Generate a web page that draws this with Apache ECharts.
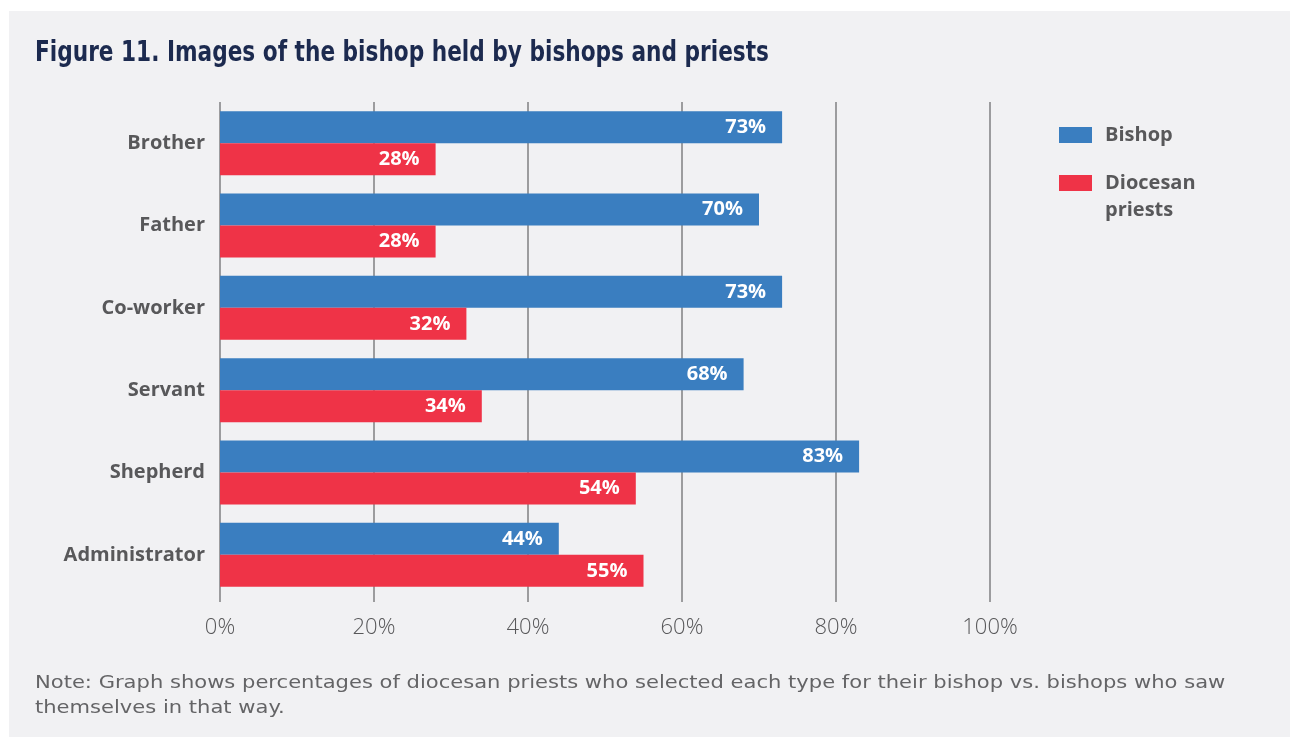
<!DOCTYPE html>
<html>
<head>
<meta charset="utf-8">
<title>Images of the bishop</title>
<script src="https://cdn.jsdelivr.net/npm/echarts@6/dist/echarts.min.js"></script>
<style>
  html, body { margin: 0; padding: 0; background: #ffffff; }
  #chart { width: 1290px; height: 737px; }
</style>
</head>
<body>
<div id="chart"></div>
<script>
// Survey roles, top to bottom
const categories = ['Brother', 'Father', 'Co-worker', 'Servant', 'Shepherd', 'Administrator'];
// Share (%) of bishops who see themselves in each role
const bishopValues = [73, 70, 73, 68, 83, 44];
// Share (%) of diocesan priests who see their bishop in each role
const priestValues = [28, 28, 32, 34, 54, 55];
// Value axis ticks
const tickValues = [0, 20, 40, 60, 80, 100];

const BLUE = '#3a7ec0';
const RED = '#ef3347';
const GREY_TEXT = '#58585a';
const BOLD_FONT = '"Open Sans", "Noto Sans", sans-serif';

const chart = echarts.init(document.getElementById('chart'), null, { renderer: 'canvas' });

const barLabel = {
  show: true,
  position: 'insideRight',
  distance: 16,
  color: '#ffffff',
  fontFamily: BOLD_FONT,
  fontWeight: 700,
  fontSize: 20,
  formatter: p => p.value + '%'
};

const option = {
  backgroundColor: '#ffffff',
  animation: false,
  graphic: [
    {
      type: 'rect',
      z: -10,
      silent: true,
      shape: { x: 9, y: 11, width: 1290 - 9, height: 737 - 11 },
      style: { fill: '#f1f1f3' }
    },
    {
      // Figure heading, set in a condensed bold face
      type: 'text',
      x: 35,
      y: 53,
      scaleX: 0.83,
      silent: true,
      style: {
        text: 'Figure 11. Images of the bishop held by bishops and priests',
        font: 'bold 29px "DejaVu Sans Condensed", "DejaVu Sans", sans-serif',
        fill: '#1c2a4f',
        align: 'left',
        verticalAlign: 'middle'
      }
    },
    {
      // Footnote
      type: 'text',
      x: 35,
      y: 671,
      scaleX: 1.17,
      silent: true,
      style: {
        text: 'Note: Graph shows percentages of diocesan priests who selected each type for their bishop vs. bishops who saw\nthemselves in that way.',
        fontFamily: '"DejaVu Sans", sans-serif',
        fontWeight: 400,
        fontSize: 18,
        lineHeight: 25,
        fill: '#646466',
        align: 'left',
        verticalAlign: 'top'
      }
    }
  ],
  legend: {
    orient: 'vertical',
    left: 1059,
    top: 121.5,
    padding: 0,
    itemWidth: 33,
    itemHeight: 16,
    itemGap: -6,
    icon: 'rect',
    data: ['Bishop', 'Diocesan priests'],
    // the blank first line keeps the swatch level with "Diocesan"
    formatter: name => name === 'Diocesan priests' ? ' \nDiocesan\npriests' : name,
    textStyle: {
      fontFamily: BOLD_FONT,
      fontWeight: 700,
      fontSize: 20,
      lineHeight: 27,
      color: GREY_TEXT,
      padding: [0, 0, 0, 8]
    }
  },
  grid: {
    left: 220,
    right: 300,
    top: 102,
    bottom: 141,
    containLabel: false
  },
  xAxis: {
    type: 'value',
    min: 0,
    max: 100,
    interval: 20,
    axisLine: { show: false },
    axisTick: {
      show: true,
      length: 6,
      lineStyle: { color: '#9c9c9e', width: 2 }
    },
    splitLine: {
      show: true,
      lineStyle: { color: '#9c9c9e', width: 2 }
    },
    axisLabel: {
      margin: 21,
      color: GREY_TEXT,
      fontFamily: '"Open Sans", sans-serif',
      fontWeight: 300,
      fontSize: 22,
      formatter: v => tickValues.includes(v) ? v + '%' : ''
    }
  },
  yAxis: {
    type: 'category',
    data: categories,
    inverse: true,
    axisLine: { show: false },
    axisTick: { show: false },
    splitLine: { show: false },
    axisLabel: {
      margin: 15,
      color: GREY_TEXT,
      fontFamily: BOLD_FONT,
      fontWeight: 700,
      fontSize: 20
    }
  },
  series: [
    {
      name: 'Bishop',
      type: 'bar',
      data: bishopValues,
      barWidth: 32,
      barGap: '0%',
      itemStyle: { color: BLUE },
      label: barLabel
    },
    {
      name: 'Diocesan priests',
      type: 'bar',
      data: priestValues,
      barWidth: 32,
      barGap: '0%',
      itemStyle: { color: RED },
      label: barLabel
    }
  ]
};

chart.setOption(option);
</script>
</body>
</html>
